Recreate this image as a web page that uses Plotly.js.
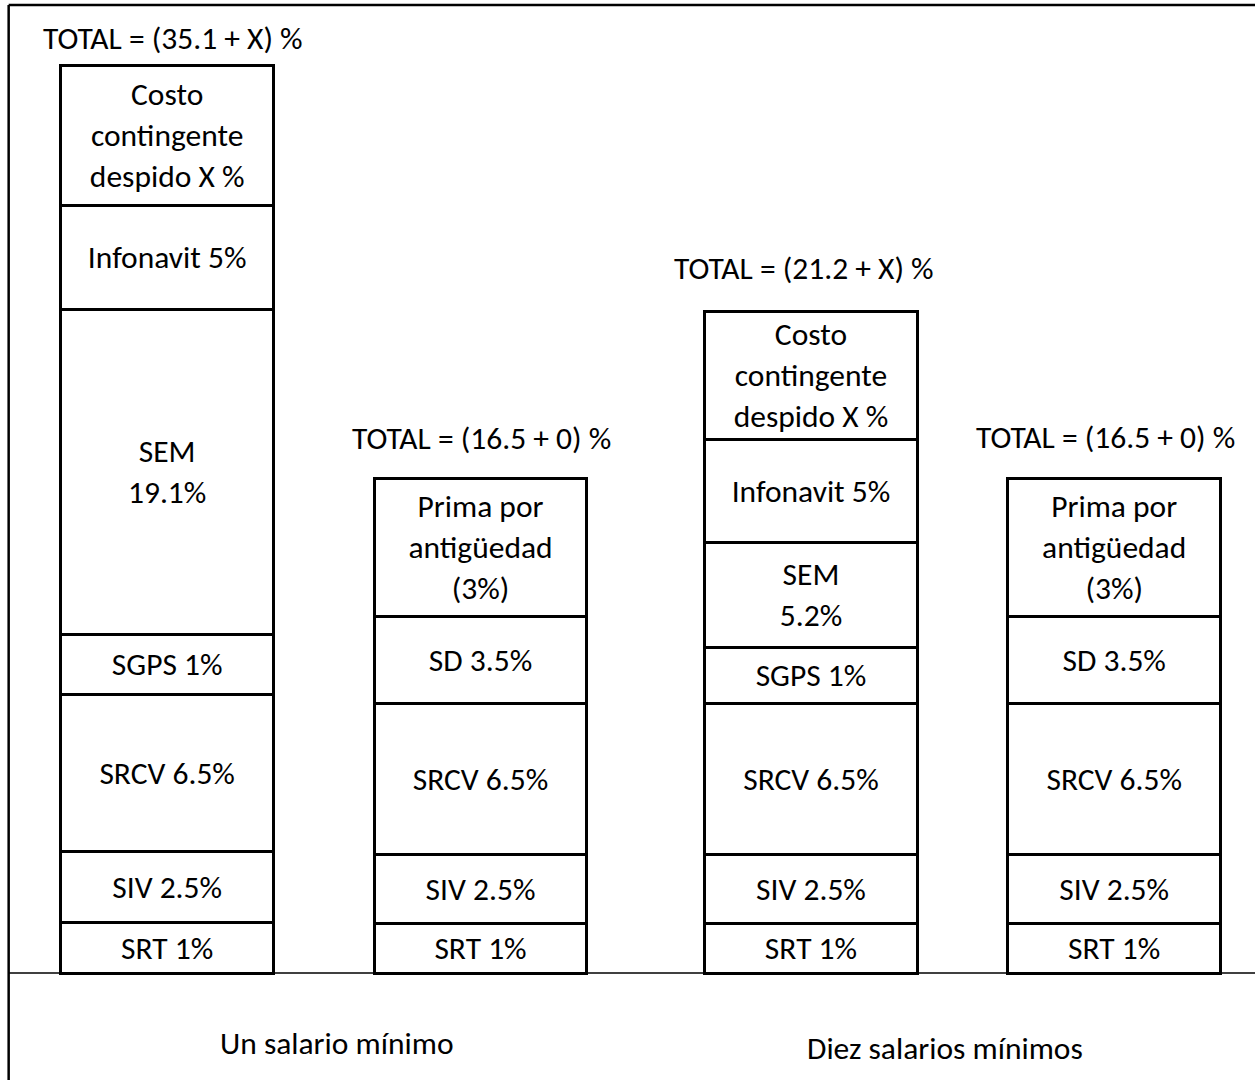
<!DOCTYPE html>
<html>
<head>
<meta charset="utf-8">
<script src="https://cdn.plot.ly/plotly-3.0.1.min.js"></script>
<style>html,body{margin:0;padding:0;background:#fff;}#chart{width:1255px;height:1080px;}</style>
</head>
<body>
<div id="chart"></div>
<script>
// ---- data ----
const bars = ["barra 1", "barra 2", "barra 3", "barra 4"];
// segment labels, bottom to top
const bar1Labels = ["SRT 1%", "SIV 2.5%", "SRCV 6.5%", "SGPS 1%", "SEM<br>19.1%", "Infonavit 5%", "Costo<br>contingente<br>despido X %"];
const bar2Labels = ["SRT 1%", "SIV 2.5%", "SRCV 6.5%", "SD 3.5%", "Prima por<br>antigüedad<br>(3%)"];
const bar3Labels = ["SRT 1%", "SIV 2.5%", "SRCV 6.5%", "SGPS 1%", "SEM<br>5.2%", "Infonavit 5%", "Costo<br>contingente<br>despido X %"];
const bar4Labels = ["SRT 1%", "SIV 2.5%", "SRCV 6.5%", "SD 3.5%", "Prima por<br>antigüedad<br>(3%)"];
// drawn box heights (diagram units), bottom to top
const bar1Heights = [51, 71, 157, 60, 325, 104, 140];
const bar2Heights = [50, 69, 151, 87, 138];
const bar3Heights = [50, 69, 151, 56, 105, 103, 128];
const bar4Heights = [50, 69, 151, 87, 138];
const totalLabels = ["TOTAL = (35.1 + X) %", "TOTAL = (16.5 + 0) %", "TOTAL = (21.2 + X) %", "TOTAL = (16.5 + 0) %"];
const groupLabels = ["Un salario mínimo", "Diez salarios mínimos"];

// ---- style ----
const FONT = "Calibri, Carlito, Lato, sans-serif";
const FS = 31.5;
const barWidth = 0.670;
const barShift = [-0.001, -0.013, 0.029, -0.015];       // small per-bar horizontal nudges
const totalShift = [[6, 27], [-3, 40], [2, 43], [-13, 41]]; // [xshift, yshift] px
const groupPos = [[0.5, 11, -70], [2.5, -15, -75]];       // [x, xshift, y]

const labels = [bar1Labels, bar2Labels, bar3Labels, bar4Labels];
const heights = [bar1Heights, bar2Heights, bar3Heights, bar4Heights];

const traces = [];
bars.forEach((b, i) => {
  heights[i].forEach((h, j) => {
    traces.push({
      type: "bar",
      x: [b],
      y: [h],
      text: [labels[i][j]],
      textposition: "inside",
      insidetextanchor: "middle",
      textangle: 0,
      constraintext: "none",
      cliponaxis: false,
      insidetextfont: {family: FONT, size: FS, color: "#000"},
      width: barWidth,
      offset: -barWidth / 2 + barShift[i],
      marker: {color: "#ffffff", line: {color: "#000000", width: 3}},
      hoverinfo: "skip",
      showlegend: false
    });
  });
});

const annotations = [];
bars.forEach((b, i) => {
  const tot = heights[i].reduce((a, c) => a + c, 0);
  annotations.push({
    x: i, y: tot, xref: "x", yref: "y",
    text: totalLabels[i], showarrow: false,
    xanchor: "center", yanchor: "middle",
    xshift: totalShift[i][0], yshift: totalShift[i][1],
    font: {family: FONT, size: FS, color: "#000"}
  });
});
groupLabels.forEach((g, k) => {
  annotations.push({
    x: groupPos[k][0], y: groupPos[k][2], xref: "x", yref: "y",
    text: g, showarrow: false, xanchor: "center", yanchor: "middle",
    xshift: groupPos[k][1],
    font: {family: FONT, size: FS, color: "#000"}
  });
});

const layout = {
  width: 1255, height: 1080,
  margin: {l: 0, r: 0, t: 0, b: 0},
  paper_bgcolor: "#fff", plot_bgcolor: "#fff",
  barmode: "stack",
  showlegend: false,
  xaxis: {type: "category", range: [-0.528, 3.429], showticklabels: false, ticks: "", showgrid: false, zeroline: false, showline: false, fixedrange: true},
  yaxis: {range: [-107, 973], showticklabels: false, ticks: "", showgrid: false, zeroline: false, showline: false, fixedrange: true},
  shapes: [
    {type: "line", xref: "paper", yref: "y", x0: 0.0069, x1: 1, y0: 0, y1: 0, line: {color: "#000", width: 1.5}, layer: "below"},
    {type: "line", xref: "paper", yref: "paper", x0: 0.0069, x1: 0.0069, y0: 0.9954, y1: 0, line: {color: "#000", width: 2.5}},
    {type: "line", xref: "paper", yref: "paper", x0: 0.0069, x1: 1, y0: 0.9954, y1: 0.9954, line: {color: "#000", width: 2.5}}
  ],
  annotations: annotations
};

Plotly.newPlot("chart", traces, layout, {staticPlot: true, displayModeBar: false});
</script>
</body>
</html>
